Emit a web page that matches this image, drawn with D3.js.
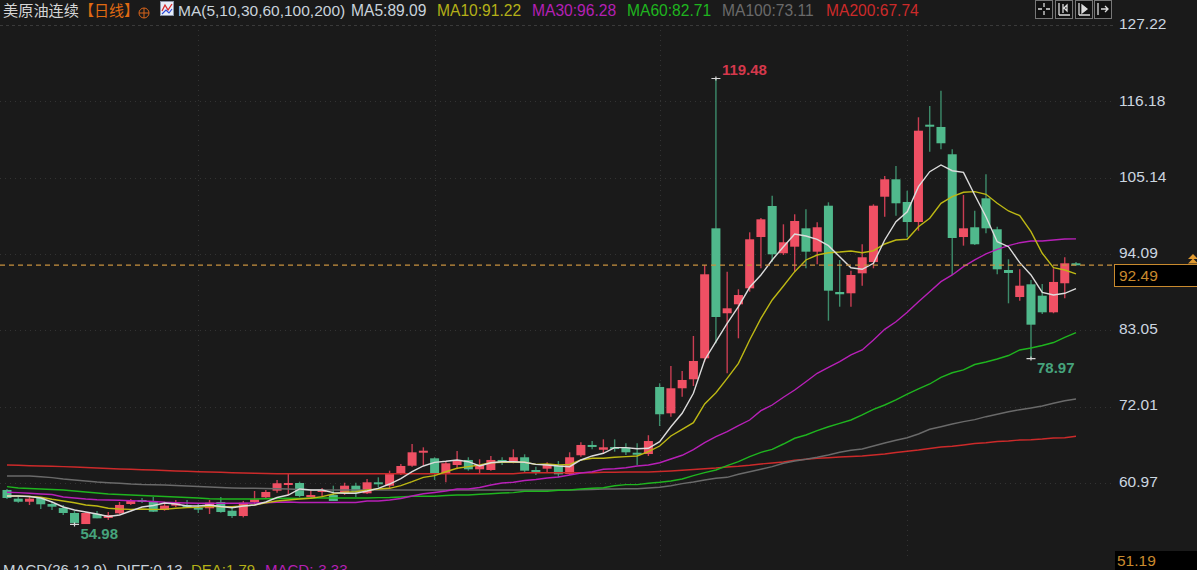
<!DOCTYPE html>
<html lang="zh">
<head>
<meta charset="utf-8">
<script src="https://cdn.jsdelivr.net/npm/d3@7/dist/d3.min.js"></script>
<style>
html,body{margin:0;padding:0;background:#1a1a1a;overflow:hidden}
svg{display:block}
text{font-family:"Liberation Sans",Arial,sans-serif}
</style>
</head>
<body>
<svg id="chart" width="1197" height="570"></svg>
<script>
const opens=[59.96,58.70,58.26,58.80,57.93,57.35,56.63,55.03,56.48,55.91,
56.59,57.93,58.51,58.22,57.06,57.69,57.79,57.40,57.31,58.22,
56.96,56.19,58.22,58.90,59.86,60.78,60.97,58.90,59.67,59.23,
59.48,60.58,59.48,61.07,60.58,62.27,63.47,65.45,64.54,62.41,
63.57,64.30,62.95,62.85,64.30,63.90,64.69,62.85,63.04,63.47,
62.27,64.98,66.47,65.78,66.18,66.08,65.35,65.16,74.86,71.05,
74.67,75.97,79.01,97.81,85.52,86.82,89.13,96.55,101.04,94.20,
95.15,97.81,94.43,101.08,88.60,88.41,91.30,92.93,102.38,104.90,
101.62,98.72,112.80,112.47,108.52,96.55,97.96,102.15,97.67,91.78,
87.87,89.71,88.06,85.66,89.86,92.75];
const highs=[60.10,59.09,58.94,58.94,58.26,57.79,56.92,56.73,56.92,56.77,
58.22,58.65,58.80,58.94,58.26,58.51,58.51,58.08,58.51,58.94,
57.54,58.37,59.81,59.96,61.40,62.37,61.16,60.10,60.25,60.58,
61.01,61.01,61.55,61.79,62.75,63.72,66.61,66.13,64.69,64.05,
65.60,64.69,64.40,64.88,64.69,65.84,65.12,63.33,63.96,64.15,
65.41,66.86,67.04,67.29,67.29,66.71,66.71,67.88,75.39,77.89,
77.17,82.24,92.50,119.48,91.54,88.99,97.23,99.30,102.53,98.39,
99.84,100.56,98.68,101.57,93.23,91.68,95.50,101.28,105.38,106.82,
103.25,113.87,115.50,117.72,109.24,102.63,100.36,105.62,98.04,93.33,
91.88,90.33,89.76,92.03,93.62,92.94];
const lows=[58.65,58.12,57.79,57.21,57.06,56.34,54.98,55.03,55.86,55.62,
56.48,57.79,58.08,56.77,56.96,57.50,57.35,56.63,56.48,56.67,
55.91,56.00,57.93,58.80,59.57,59.23,58.90,58.80,58.94,58.37,
59.23,58.94,59.38,60.29,60.10,62.13,63.33,63.57,61.40,61.07,
62.95,62.75,62.27,62.75,63.57,63.82,62.51,62.13,62.46,61.79,
62.13,64.77,65.84,65.26,65.50,65.02,63.57,64.87,69.21,70.56,
73.45,75.00,78.52,81.18,76.84,81.90,88.64,92.03,92.98,93.95,
91.54,92.03,92.61,84.45,86.47,86.47,89.51,92.03,99.49,99.64,
96.51,97.46,108.89,109.24,91.06,95.30,95.40,97.09,91.16,86.96,
87.34,78.97,85.42,85.52,87.69,92.40];
const closes=[58.80,58.26,58.70,57.89,57.54,56.63,55.19,56.63,55.86,56.34,
57.79,58.37,58.37,56.82,57.69,58.12,57.40,57.21,58.12,56.77,
56.19,58.12,58.61,59.67,60.93,60.97,59.09,59.23,59.96,58.37,
60.58,59.71,61.07,60.82,62.37,63.43,65.41,65.64,62.31,63.82,
64.30,62.95,63.57,64.30,63.96,64.69,62.75,62.66,63.72,62.23,
64.69,66.47,66.18,66.13,65.89,65.41,65.16,67.04,70.91,74.67,
75.87,78.62,91.16,84.98,86.24,88.16,96.22,99.11,94.05,95.79,
98.87,94.43,97.96,88.79,88.27,91.06,93.62,101.08,104.90,101.43,
98.72,111.93,112.51,110.11,96.41,97.81,95.50,97.81,91.88,91.35,
89.51,83.87,85.66,90.05,92.75,92.49];

const ma5=[59.09,59.09,59.02,58.80,58.22,57.50,57.06,56.77,56.48,56.12,
56.34,56.92,57.50,57.72,58.08,57.93,57.64,57.64,57.79,57.57,
57.40,57.64,57.79,58.22,58.87,59.23,60.10,59.96,59.96,59.57,
59.48,59.48,59.81,60.20,60.82,61.59,62.60,63.43,63.96,64.11,
64.30,64.05,63.43,63.90,64.05,64.05,63.96,63.67,63.57,63.43,
63.33,64.30,64.88,65.27,66.08,66.08,65.93,65.99,66.95,69.11,
71.05,73.94,78.76,81.41,84.07,86.47,89.28,91.06,93.23,95.15,
96.99,96.70,96.22,95.30,93.70,92.11,91.88,92.75,96.12,98.77,
100.21,103.83,106.00,106.97,106.14,105.91,102.63,99.49,95.87,95.15,
92.84,91.06,88.55,88.16,88.41,89.09];
const ma10=[59.09,59.09,59.02,58.90,58.61,58.37,58.12,57.79,57.64,57.31,
57.21,57.16,57.21,57.16,57.16,57.31,57.40,57.45,57.60,57.54,
57.54,57.64,57.79,58.12,58.37,58.51,58.65,58.76,58.99,59.38,
59.63,59.71,59.96,60.10,60.20,60.58,61.16,61.79,62.03,62.60,
63.10,63.33,63.57,63.90,63.96,63.96,63.96,63.67,63.72,63.57,
63.65,64.30,64.54,64.54,64.69,64.78,64.88,65.50,66.32,67.77,
68.74,69.69,72.40,74.03,76.11,78.28,81.66,84.79,87.44,89.47,
91.54,93.23,93.95,94.28,94.38,94.53,94.28,94.57,95.54,96.12,
96.22,98.04,99.26,101.43,102.38,103.02,103.11,102.73,101.43,100.32,
99.64,97.32,94.20,92.11,91.78,91.22];
const ma30=[59.63,59.57,59.48,59.38,59.31,58.95,58.80,58.65,58.55,58.51,
58.47,58.41,58.37,58.30,58.18,58.12,58.08,58.03,58.03,58.03,
58.03,58.03,58.08,58.12,58.18,58.22,58.15,58.15,58.15,58.15,
58.15,58.15,58.37,58.37,58.51,58.73,59.09,59.42,59.60,59.81,
60.10,60.10,60.32,60.68,60.97,61.07,61.33,61.48,61.69,61.84,
62.13,62.42,62.60,62.95,63.04,63.18,63.43,63.57,63.90,64.44,
64.98,65.80,66.80,67.67,68.40,69.27,70.08,71.43,72.25,73.37,
74.42,75.62,76.84,77.71,78.52,79.49,80.21,81.65,83.20,84.30,
85.66,87.20,88.64,90.09,91.06,92.26,93.23,94.10,94.77,95.30,
95.73,95.97,95.97,96.12,96.26,96.28];
const ma60=[60.44,60.25,60.17,60.10,60.03,59.96,59.81,59.67,59.52,59.38,
59.31,59.23,59.16,59.09,59.02,58.95,58.87,58.80,58.70,58.65,
58.65,58.65,58.65,58.70,58.73,58.76,58.73,58.80,58.80,58.80,
58.80,58.80,58.80,58.85,58.87,58.95,59.05,59.05,59.05,59.16,
59.23,59.23,59.34,59.42,59.52,59.57,59.77,59.77,59.77,59.92,
59.96,60.10,60.20,60.29,60.58,60.73,60.73,60.93,61.07,61.26,
61.55,62.03,62.46,62.85,63.47,64.05,64.77,65.41,65.84,66.61,
67.44,67.91,68.54,69.11,69.60,70.08,70.81,71.63,72.25,72.98,
73.84,74.57,75.29,76.26,76.92,77.32,78.11,78.47,78.91,79.41,
80.21,80.50,80.86,81.29,82.02,82.71];
const ma100=[61.98,61.98,61.98,61.88,61.74,61.55,61.40,61.26,61.11,61.01,
60.93,60.82,60.75,60.72,60.68,60.61,60.54,60.46,60.39,60.32,
60.25,60.20,60.20,60.17,60.14,60.10,60.03,59.96,59.96,59.96,
59.96,59.96,59.96,59.96,59.96,59.96,59.96,59.96,59.96,59.96,
59.96,59.96,59.96,59.96,59.96,59.96,59.96,59.96,59.96,59.96,
59.96,60.00,60.03,60.10,60.10,60.14,60.14,60.25,60.35,60.58,
60.87,61.11,61.40,61.65,61.79,62.23,62.60,62.95,63.33,63.82,
64.15,64.40,64.69,65.02,65.41,65.70,65.89,66.32,66.76,67.15,
67.52,68.06,68.74,69.11,69.50,69.84,70.13,70.56,70.91,71.28,
71.57,71.82,72.11,72.50,72.87,73.11];
const ma200=[63.57,63.53,63.47,63.43,63.39,63.33,63.29,63.21,63.14,63.07,
63.00,62.95,62.89,62.85,62.78,62.71,62.66,62.60,62.56,62.52,
62.46,62.42,62.37,62.34,62.31,62.31,62.31,62.31,62.31,62.31,
62.31,62.31,62.31,62.31,62.31,62.31,62.31,62.31,62.31,62.31,
62.31,62.31,62.31,62.31,62.31,62.31,62.46,62.46,62.46,62.46,
62.46,62.46,62.46,62.52,62.52,62.56,62.56,62.56,62.63,62.71,
62.81,62.92,63.04,63.14,63.29,63.39,63.53,63.72,63.86,64.01,
64.25,64.40,64.54,64.63,64.73,64.80,64.88,65.02,65.17,65.38,
65.56,65.74,65.96,66.18,66.28,66.47,66.69,66.80,66.97,67.04,
67.19,67.23,67.33,67.48,67.52,67.74];

const priceTicks=[127.22,116.18,105.14,94.09,83.05,72.01,60.97];
const axisFloor=51.19;
const lastPrice=92.49;
const monthBreaks=[17,38,58,80];
const extremes=[63,6,91];
const maSeries=[
  {name:"MA5",values:ma5,label:"89.09",color:"#dcdcdc",textColor:"#c9d3dc"},
  {name:"MA10",values:ma10,label:"91.22",color:"#bdb814",textColor:"#b4b018"},
  {name:"MA30",values:ma30,label:"96.28",color:"#b820b8",textColor:"#b420b4"},
  {name:"MA60",values:ma60,label:"82.71",color:"#1fb51f",textColor:"#1fb51f"},
  {name:"MA100",values:ma100,label:"73.11",color:"#6a6a6a",textColor:"#6a6a6a"},
  {name:"MA200",values:ma200,label:"67.74",color:"#cc2a2a",textColor:"#cc2a2a"}
];
const headerX=[351,437,532,627,722,826];

const svg=d3.select("#chart");
svg.append("rect").attr("width",1197).attr("height",570).attr("fill","#1a1a1a");

const x=d3.scaleLinear().domain([0,closes.length-1]).range([7,1076]);
const y=d3.scaleLinear().domain([axisFloor,127.22]).range([550.6,25]);
const gridRight=1113;

// grid
const grid=svg.append("g");
grid.selectAll("line.h").data(priceTicks).join("line")
  .attr("x1",0).attr("x2",gridRight)
  .attr("y1",d=>Math.round(y(d))+0.5).attr("y2",d=>Math.round(y(d))+0.5)
  .attr("stroke",(d,i)=>i===0?"#3a3a3a":"#333333").attr("stroke-dasharray",(d,i)=>i===0?"3 3":"1 4");
grid.selectAll("line.v").data(monthBreaks).join("line")
  .attr("x1",d=>Math.round(x(d))+0.5).attr("x2",d=>Math.round(x(d))+0.5)
  .attr("y1",25).attr("y2",558)
  .attr("stroke","#333333").attr("stroke-dasharray","1 4");

// candles
const idx=d3.range(closes.length);
const isUp=i=>closes[i]>=opens[i];
const upFill="#ef5064",downFill="#50b98c",upWick="#c93d52",downWick="#3d8c6b";
const candles=svg.append("g");
candles.selectAll("line").data(idx).join("line")
  .attr("x1",i=>x(i)).attr("x2",i=>x(i))
  .attr("y1",i=>y(highs[i])).attr("y2",i=>y(lows[i]))
  .attr("stroke",i=>isUp(i)?upWick:downWick).attr("stroke-width",1.4);
candles.selectAll("rect").data(idx).join("rect")
  .attr("x",i=>x(i)-4.5).attr("width",9)
  .attr("y",i=>y(Math.max(opens[i],closes[i])))
  .attr("height",i=>Math.max(2,Math.abs(y(opens[i])-y(closes[i]))))
  .attr("fill",i=>isUp(i)?upFill:downFill);

// moving averages
const line=d3.line().x((d,i)=>x(i)).y(d=>y(d));
svg.append("g").selectAll("path").data(maSeries.slice().reverse()).join("path")
  .attr("d",d=>line(d.values)).attr("fill","none")
  .attr("stroke",d=>d.color).attr("stroke-width",1.4);

// last price line
svg.append("line").attr("x1",0).attr("x2",1115)
  .attr("y1",y(lastPrice)).attr("y2",y(lastPrice))
  .attr("stroke","#c8913f").attr("stroke-width",1.2).attr("stroke-dasharray","5 4");

// extreme markers
const marks=svg.append("g");
marks.selectAll("path").data(extremes).join("path")
  .attr("d",i=>{
    const v=i===63?highs[i]:lows[i];
    const px=x(i),py=y(v);
    return `M${px-4.5},${py}H${px+4.5}M${px},${py-2}V${py+2}`;
  }).attr("stroke","#d8d8d8").attr("stroke-width",1.2).attr("fill","none");
marks.selectAll("text").data(extremes).join("text")
  .attr("x",i=>x(i)+6)
  .attr("y",i=>i===63?y(highs[i])-4:y(lows[i])+14.5)
  .attr("font-size",15).attr("font-weight","bold")
  .attr("fill",i=>i===63?"#d5384c":"#46a37c")
  .text(i=>(i===63?highs[i]:lows[i]).toFixed(2));

// axis
const axis=d3.axisRight(y).tickValues(priceTicks).tickSize(0).tickPadding(0).tickFormat(d3.format(".2f"));
const ag=svg.append("g").attr("transform","translate(1119,0)").call(axis);
ag.select(".domain").remove();
ag.selectAll("text").attr("font-size",15.5).attr("fill","#ccd6e0")
  .attr("font-family",'"Liberation Sans",Arial,sans-serif')
  .attr("dy",".32em").attr("transform",(d,i)=>`translate(0,${-1-i*0.15})`);

// floor label
svg.append("rect").attr("x",1115).attr("y",551).attr("width",82).attr("height",19).attr("fill","#000");
svg.append("text").attr("x",1117).attr("y",565.5).attr("font-size",15.5).attr("fill","#c98a2e").text(axisFloor.toFixed(2));

// last price box
svg.append("rect").attr("x",1114.5).attr("y",264.5).attr("width",83).attr("height",22)
  .attr("fill","#000").attr("stroke","#c98a2e");
svg.append("text").attr("x",1119).attr("y",281).attr("font-size",15.5).attr("fill","#c98a2e").text(lastPrice.toFixed(2));
svg.append("path").attr("d","M1193,254l5,5h-10zM1193,258.5l5,5h-10z").attr("fill","#e09a30");

// header
const hdr=svg.append("g");
hdr.append("text").attr("x",3).attr("y",15.5).attr("font-size",15.2).attr("fill","#d6d6d6")
  .style("font-family",'"Noto Sans CJK SC"').text("美原油连续");
hdr.append("text").attr("x",79).attr("y",15.5).attr("font-size",15).attr("fill","#e06a12")
  .style("font-family",'"Noto Sans CJK SC"').text("【日线】");
hdr.append("circle").attr("cx",144).attr("cy",13).attr("r",5).attr("fill","none").attr("stroke","#d8641a");
hdr.append("path").attr("d","M139,13H149M144,8V18").attr("stroke","#d8641a");
hdr.append("rect").attr("x",160.5).attr("y",1.5).attr("width",13).attr("height",14).attr("fill","#e8eef8").attr("stroke","#8a94a8");
hdr.append("path").attr("d","M162,11L165,5L168,10L172,4").attr("fill","none").attr("stroke","#d92a2a").attr("stroke-width",1.3);
hdr.append("path").attr("d","M162,14L166,10L169,13L172,9").attr("fill","none").attr("stroke","#2a4ad9").attr("stroke-width",1.1);
hdr.append("text").attr("x",178).attr("y",15.5).attr("font-size",15.5).attr("fill","#c9d3dc").text("MA(5,10,30,60,100,200)");
hdr.selectAll("text.ma").data(maSeries).join("text").attr("class","ma")
  .attr("x",(d,i)=>headerX[i]).attr("y",15.5).attr("font-size",15.6)
  .attr("fill",d=>d.textColor).text(d=>d.name+":"+d.label);

// toolbar icons
const tb=svg.append("g");
const tbX=[1035,1055,1075,1094];
tbX.forEach((bx,k)=>{
  const g=tb.append("g").attr("transform",`translate(${bx},0)`);
  g.append("rect").attr("x",0.5).attr("y",0.5).attr("width",17).attr("height",18).attr("fill","#111").attr("stroke","#777");
  const glyph=[
    "M9,3V7M9,11V15M3,9H7M11,9H15",
    "M4,3V15M4,15H15M8,4V13M12,5L9,8L12,11Z",
    "M4,3V15M4,15H15M7,5L12,9L7,13Z",
    "M4,3V15M7,9H14M11,6L14,9L11,12"
  ][k];
  g.append("path").attr("d",glyph).attr("stroke","#dcdcdc").attr("stroke-width",1.3).attr("fill",k===2?"#dcdcdc":"none");
});

// bottom MACD caption
const macdLabels=[
  {t:"MACD(26,12,9)",x:3,c:"#c9d3dc"},
  {t:"DIFF:0.13",x:116,c:"#c9d3dc"},
  {t:"DEA:1.79",x:191,c:"#b4b018"},
  {t:"MACD:-3.33",x:265,c:"#b420b4"}
];
svg.append("g").selectAll("text").data(macdLabels).join("text")
  .attr("x",d=>d.x).attr("y",575).attr("font-size",15).attr("fill",d=>d.c).text(d=>d.t);
</script>
</body>
</html>
